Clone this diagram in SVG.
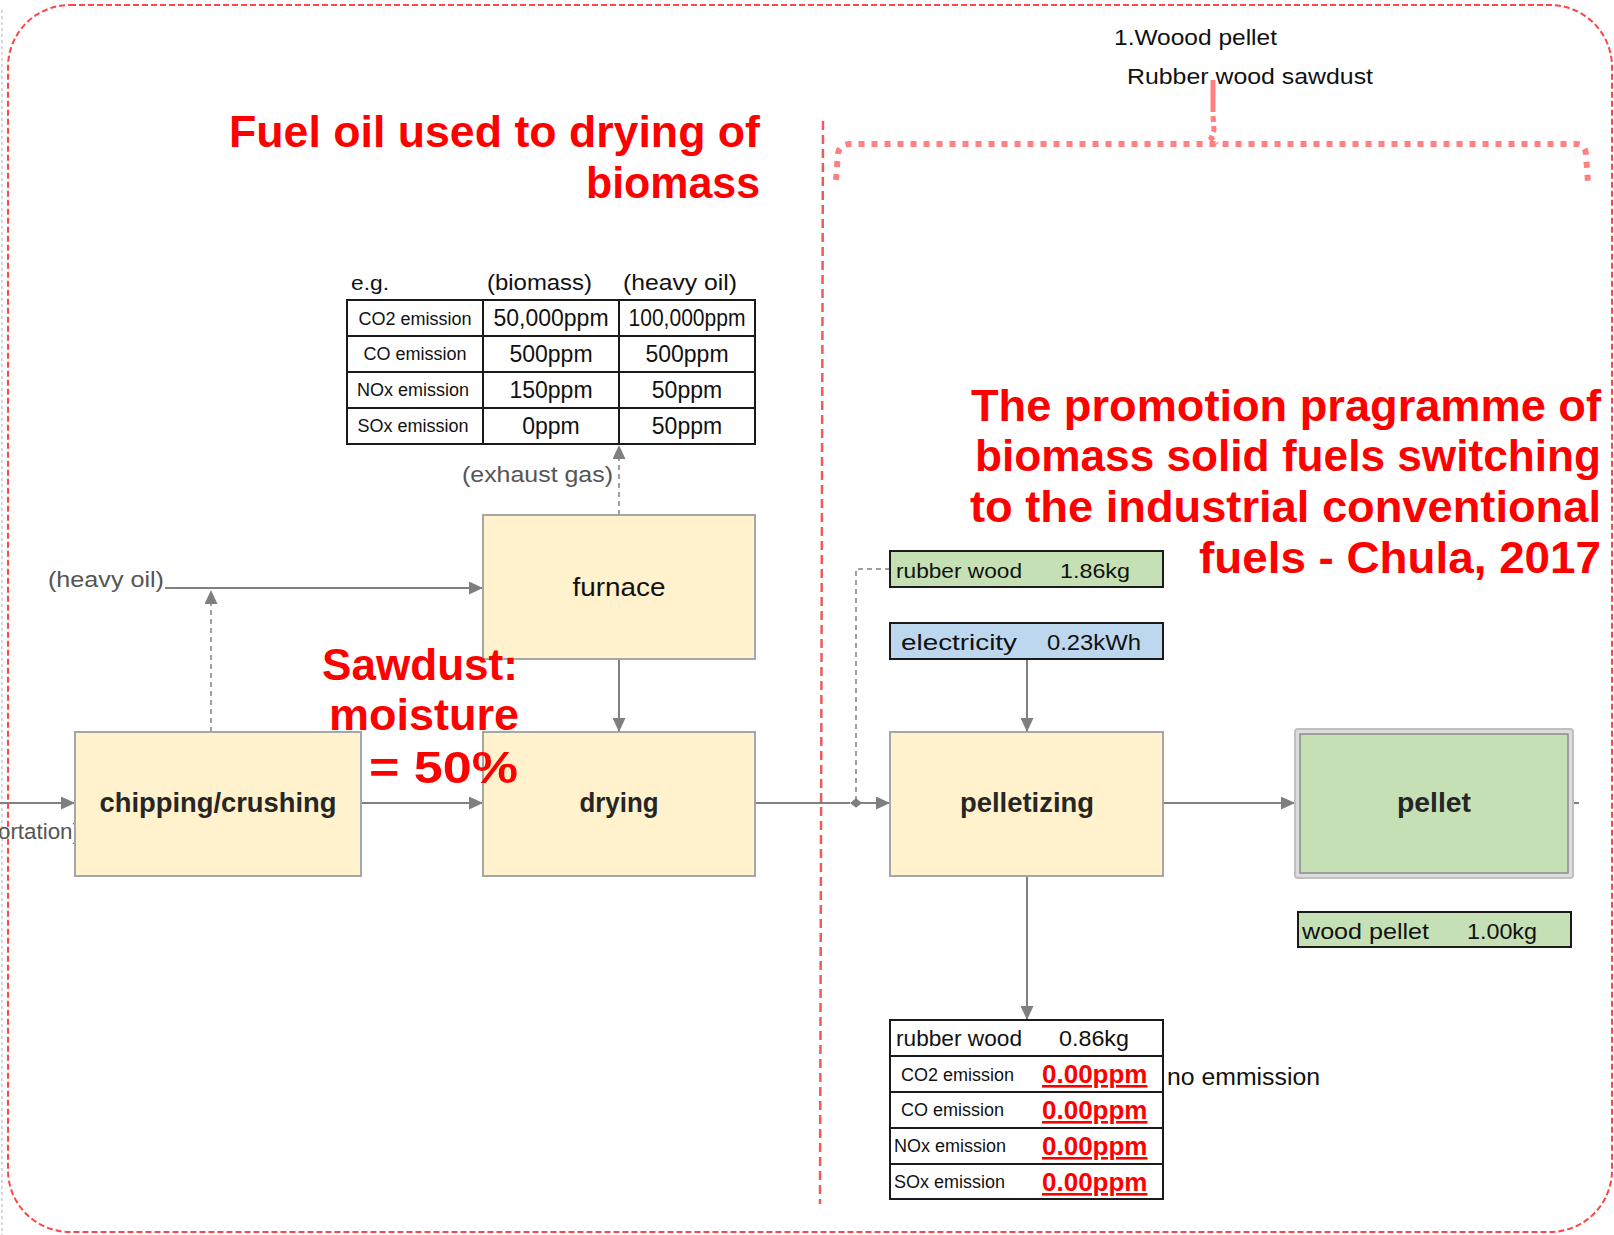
<svg xmlns="http://www.w3.org/2000/svg" width="1614" height="1235" viewBox="0 0 1614 1235">
<defs>
<marker id="arr" viewBox="0 0 10 10" refX="10" refY="5" markerWidth="14" markerHeight="13" markerUnits="userSpaceOnUse" orient="auto" preserveAspectRatio="none">
<path d="M0,0 L10,5 L0,10 z" fill="#7f7f7f"/>
</marker>
<marker id="dia" viewBox="0 0 10 10" refX="5" refY="5" markerWidth="12" markerHeight="12" markerUnits="userSpaceOnUse" orient="auto">
<path d="M0,5 L5,1 L10,5 L5,9 z" fill="#7f7f7f"/>
</marker>
<style>
.big{font-family:"Liberation Sans",Arial,sans-serif;font-weight:bold;fill:#ff0000;font-size:45px;text-anchor:end}
.box{fill:#fff2cc;stroke:#a6a6a6;stroke-width:2}
.lbl{font-family:"Liberation Sans",Arial,sans-serif;font-weight:bold;font-size:27px;fill:#262626;text-anchor:middle}
.t{font-family:"Liberation Sans",Arial,sans-serif;fill:#111}
.g{font-family:"Liberation Sans",Arial,sans-serif;fill:#555;font-size:22px}
.ln{stroke:#808080;stroke-width:2;fill:none}
.dash{stroke-dasharray:5 4;stroke-width:1.5}
.cell{fill:#fff;stroke:#1a1a1a;stroke-width:2}
.s{font-size:18px}
.v{font-size:23px;text-anchor:middle}
.red{font-family:"Liberation Sans",Arial,sans-serif;font-weight:bold;font-size:26px;fill:#ff0000;text-decoration:underline}
</style>
</defs>
<rect width="1614" height="1235" fill="#ffffff"/>

<g id="frames">
<line x1="2" y1="10" x2="2" y2="1235" stroke="#b0b0b0" stroke-width="1" stroke-dasharray="3 3"/>
<rect x="8" y="5" width="1604" height="1227" rx="62" ry="62" fill="none" stroke="#ff4545" stroke-width="2" stroke-dasharray="6 3"/>
<line x1="823" y1="121" x2="820" y2="1204" stroke="#f25a5a" stroke-width="2.5" stroke-dasharray="9 5"/>
<path d="M836,180 L838,153 Q840,144 850,144 L1576,144 Q1585,144 1586,154 L1588,183" fill="none" stroke="#ff8080" stroke-width="6" stroke-dasharray="6 7"/>
<path d="M1213,80 L1213,112" fill="none" stroke="#ff8080" stroke-width="5"/>
<path d="M1213,116 L1214,130 L1211,138 L1217,144" fill="none" stroke="#ff8080" stroke-width="5" stroke-dasharray="6 4"/>
</g>

<g id="title-texts">
<text class="t" x="1114" y="45" font-size="22" fill="#333" textLength="163" lengthAdjust="spacingAndGlyphs">1.Woood pellet</text>
<text class="t" x="1127" y="84" font-size="22" fill="#333" textLength="246" lengthAdjust="spacingAndGlyphs">Rubber wood sawdust</text>
<text class="big" x="760" y="147" textLength="531" lengthAdjust="spacingAndGlyphs">Fuel oil used to drying of</text>
<text class="big" x="760" y="198" textLength="174" lengthAdjust="spacingAndGlyphs">biomass</text>
<text class="big" x="1601" y="421" textLength="630" lengthAdjust="spacingAndGlyphs">The promotion pragramme of</text>
<text class="big" x="1601" y="471" textLength="626" lengthAdjust="spacingAndGlyphs">biomass solid fuels switching</text>
<text class="big" x="1601" y="522" textLength="631" lengthAdjust="spacingAndGlyphs">to the industrial conventional</text>
<text class="big" x="1601" y="573" textLength="402" lengthAdjust="spacingAndGlyphs">fuels - Chula, 2017</text>
</g>

<g id="connectors">
<line class="ln" x1="0" y1="803" x2="75" y2="803" marker-end="url(#arr)"/>
<line class="ln" x1="361" y1="803" x2="483" y2="803" marker-end="url(#arr)"/>
<line class="ln" x1="165" y1="588" x2="483" y2="588" marker-end="url(#arr)"/>
<line class="ln dash" x1="211" y1="732" x2="211" y2="590" marker-end="url(#arr)"/>
<line class="ln" x1="619" y1="659" x2="619" y2="732" marker-end="url(#arr)"/>
<line class="ln dash" x1="619" y1="515" x2="619" y2="445" marker-end="url(#arr)"/>
<line class="ln" x1="755" y1="803" x2="850" y2="803"/>
<line class="ln" x1="856" y1="803" x2="890" y2="803" marker-start="url(#dia)" marker-end="url(#arr)"/>
<path class="ln dash" d="M890,569 L856,569 L856,803"/>
<line class="ln" x1="1027" y1="659" x2="1027" y2="732" marker-end="url(#arr)"/>
<line class="ln" x1="1163" y1="803" x2="1295" y2="803" marker-end="url(#arr)"/>
<line class="ln" x1="1573" y1="803" x2="1579" y2="803" stroke-width="1.5"/>
<line class="ln" x1="1027" y1="876" x2="1027" y2="1020" marker-end="url(#arr)"/>
</g>

<g id="label-heavy-oil"><text class="g" x="48" y="587" textLength="116" lengthAdjust="spacingAndGlyphs">(heavy oil)</text></g>
<g id="label-transport"><text class="g" x="-2" y="839" textLength="82" lengthAdjust="spacingAndGlyphs">ortation)</text></g>
<g id="label-exhaust"><text class="g" x="462" y="482" textLength="151" lengthAdjust="spacingAndGlyphs">(exhaust gas)</text></g>

<g id="node-chipping">
<rect class="box" x="75" y="732" width="286" height="144"/>
<text class="lbl" x="218" y="812" textLength="237" lengthAdjust="spacingAndGlyphs">chipping/crushing</text>
</g>
<g id="node-furnace">
<rect class="box" x="483" y="515" width="272" height="144"/>
<text class="t" x="619" y="596" font-size="25" fill="#404040" text-anchor="middle" textLength="93" lengthAdjust="spacingAndGlyphs">furnace</text>
</g>
<g id="node-drying">
<rect class="box" x="483" y="732" width="272" height="144"/>
<text class="lbl" x="619" y="812" textLength="79" lengthAdjust="spacingAndGlyphs">drying</text>
</g>
<g id="node-pelletizing">
<rect class="box" x="890" y="732" width="273" height="144"/>
<text class="lbl" x="1027" y="812" textLength="134" lengthAdjust="spacingAndGlyphs">pelletizing</text>
</g>
<g id="node-pellet">
<rect x="1295" y="729" width="278" height="149" rx="3" fill="#dcdcdc" stroke="#bfbfbf" stroke-width="2"/>
<rect x="1300" y="734" width="268" height="139" fill="#c5e0b4" stroke="#8c8c8c" stroke-width="1.5"/>
<text class="lbl" x="1434" y="812" textLength="74" lengthAdjust="spacingAndGlyphs">pellet</text>
</g>

<g id="sawdust-note">
<text class="big" x="518" y="680" textLength="196" lengthAdjust="spacingAndGlyphs">Sawdust:</text>
<text class="big" x="519" y="730" textLength="190" lengthAdjust="spacingAndGlyphs">moisture</text>
<text class="big" x="518" y="783" textLength="149" lengthAdjust="spacingAndGlyphs">= 50%</text>
</g>

<g id="node-rubberwood-in">
<rect x="890" y="551" width="273" height="36" fill="#c5e0b4" stroke="#1a1a1a" stroke-width="2"/>
<text class="t" x="896" y="578" font-size="21" textLength="126" lengthAdjust="spacingAndGlyphs">rubber wood</text>
<text class="t" x="1060" y="578" font-size="21" textLength="70" lengthAdjust="spacingAndGlyphs">1.86kg</text>
</g>
<g id="node-electricity">
<rect x="890" y="623" width="273" height="36" fill="#bdd7ee" stroke="#1a1a1a" stroke-width="2"/>
<text class="t" x="901" y="650" font-size="22" textLength="116" lengthAdjust="spacingAndGlyphs">electricity</text>
<text class="t" x="1047" y="650" font-size="22" textLength="94" lengthAdjust="spacingAndGlyphs">0.23kWh</text>
</g>
<g id="node-woodpellet">
<rect x="1298" y="912" width="273" height="35" fill="#c5e0b4" stroke="#1a1a1a" stroke-width="2"/>
<text class="t" x="1302" y="939" font-size="22" textLength="127" lengthAdjust="spacingAndGlyphs">wood pellet</text>
<text class="t" x="1467" y="939" font-size="22" textLength="70" lengthAdjust="spacingAndGlyphs">1.00kg</text>
</g>

<g id="table-emissions">
<text class="t" x="351" y="290" font-size="21" textLength="38" lengthAdjust="spacingAndGlyphs">e.g.</text>
<text class="t" x="487" y="290" font-size="22" textLength="105" lengthAdjust="spacingAndGlyphs">(biomass)</text>
<text class="t" x="623" y="290" font-size="22" textLength="114" lengthAdjust="spacingAndGlyphs">(heavy oil)</text>
<rect class="cell" x="347" y="300" width="408" height="144"/>
<line x1="483" y1="300" x2="483" y2="444" stroke="#1a1a1a" stroke-width="2"/>
<line x1="619" y1="300" x2="619" y2="444" stroke="#1a1a1a" stroke-width="2"/>
<line x1="347" y1="336" x2="755" y2="336" stroke="#1a1a1a" stroke-width="2"/>
<line x1="347" y1="372" x2="755" y2="372" stroke="#1a1a1a" stroke-width="2"/>
<line x1="347" y1="408" x2="755" y2="408" stroke="#1a1a1a" stroke-width="2"/>
<text class="t s" x="415" y="325" text-anchor="middle">CO2 emission</text>
<text class="t s" x="415" y="360" text-anchor="middle">CO emission</text>
<text class="t s" x="413" y="396" text-anchor="middle">NOx emission</text>
<text class="t s" x="413" y="432" text-anchor="middle">SOx emission</text>
<text class="t v" x="551" y="326">50,000ppm</text>
<text class="t v" x="687" y="326" textLength="117" lengthAdjust="spacingAndGlyphs">100,000ppm</text>
<text class="t v" x="551" y="362">500ppm</text>
<text class="t v" x="687" y="362">500ppm</text>
<text class="t v" x="551" y="398">150ppm</text>
<text class="t v" x="687" y="398">50ppm</text>
<text class="t v" x="551" y="434">0ppm</text>
<text class="t v" x="687" y="434">50ppm</text>
</g>

<g id="table-output">
<rect class="cell" x="890" y="1020" width="273" height="179"/>
<line x1="890" y1="1056" x2="1163" y2="1056" stroke="#1a1a1a" stroke-width="2"/>
<line x1="890" y1="1092" x2="1163" y2="1092" stroke="#1a1a1a" stroke-width="2"/>
<line x1="890" y1="1128" x2="1163" y2="1128" stroke="#1a1a1a" stroke-width="2"/>
<line x1="890" y1="1164" x2="1163" y2="1164" stroke="#1a1a1a" stroke-width="2"/>
<text class="t" x="896" y="1046" font-size="22" textLength="126" lengthAdjust="spacingAndGlyphs">rubber wood</text>
<text class="t" x="1059" y="1046" font-size="22" textLength="70" lengthAdjust="spacingAndGlyphs">0.86kg</text>
<text class="t s" x="901" y="1081">CO2 emission</text>
<text class="t s" x="901" y="1116">CO emission</text>
<text class="t s" x="894" y="1152">NOx emission</text>
<text class="t s" x="894" y="1188">SOx emission</text>
<text class="red" x="1042" y="1083">0.00ppm</text>
<text class="red" x="1042" y="1119">0.00ppm</text>
<text class="red" x="1042" y="1155">0.00ppm</text>
<text class="red" x="1042" y="1191">0.00ppm</text>
<text class="t" x="1167" y="1085" font-size="23" textLength="153" lengthAdjust="spacingAndGlyphs">no emmission</text>
</g>
</svg>
